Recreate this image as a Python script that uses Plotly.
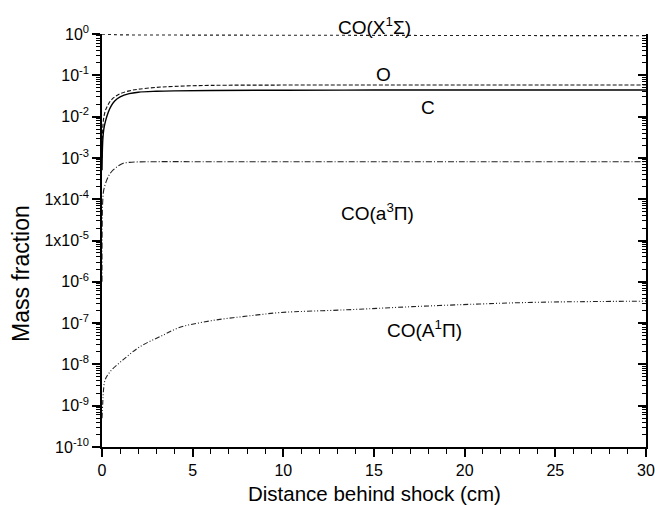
import plotly.graph_objects as go

# ---------------- data ----------------
x_X = [0, 0.5, 1, 2, 5, 10, 20, 30]
y_X = [0.99, 0.965, 0.955, 0.945, 0.935, 0.93, 0.92, 0.91]

x_OC = [0, 0.02, 0.05, 0.1, 0.2, 0.35, 0.5, 0.7, 1, 1.5, 2, 3, 4, 6, 10, 15, 20, 30]
y_O = [1.0e-3, 3e-3, 6e-3, 0.0095, 0.0145, 0.020, 0.025, 0.030, 0.036, 0.042,
       0.046, 0.051, 0.054, 0.057, 0.058, 0.058, 0.058, 0.058]
y_C = [5e-4, 1.5e-3, 3e-3, 5e-3, 8e-3, 0.013, 0.018, 0.024, 0.030, 0.036,
       0.039, 0.041, 0.042, 0.043, 0.0435, 0.044, 0.044, 0.044]

x_a = [0, 0.01, 0.04, 0.1, 0.26, 0.4, 0.62, 0.9, 1.17, 1.5, 2, 3, 5, 10, 20, 30]
y_a = [1e-6, 2e-5, 9e-5, 1.7e-4, 2.9e-4, 3.9e-4, 5.1e-4, 6.4e-4, 7.4e-4, 7.8e-4,
       8.0e-4, 8.1e-4, 8.1e-4, 8.1e-4, 8.1e-4, 8.1e-4]

x_A = [0, 0.04, 0.07, 0.17, 0.44, 1.17, 2.1, 3.2, 4.3, 5.4, 6.5, 7.6, 8.7, 9.8,
       13.5, 17.1, 20.8, 24.1, 30]
y_A = [5e-10, 1.15e-9, 2e-9, 4.2e-9, 6.6e-9, 1.3e-8, 2.7e-8, 4.7e-8, 7.9e-8,
       1.02e-7, 1.23e-7, 1.41e-7, 1.6e-7, 1.8e-7, 2.1e-7, 2.5e-7, 2.9e-7, 3.2e-7, 3.4e-7]

y_tickvals = [1, 1e-1, 1e-2, 1e-3, 1e-4, 1e-5, 1e-6, 1e-7, 1e-8, 1e-9, 1e-10]
y_ticktext = ["10<sup>0</sup>", "10<sup>-1</sup>", "10<sup>-2</sup>", "10<sup>-3</sup>",
              "1x10<sup>-4</sup>", "1x10<sup>-5</sup>", "10<sup>-6</sup>", "10<sup>-7</sup>",
              "10<sup>-8</sup>", "10<sup>-9</sup>", "10<sup>-10</sup>"]
x_tickvals = [0, 5, 10, 15, 20, 25, 30]
x_minorvals = list(range(0, 31))

labels = ["O", "C", "CO(a<sup>3</sup>Π)", "CO(A<sup>1</sup>Π)"]
label_x = [15.5, 18.0, 15.2, 17.8]
label_logy = [-0.99, -1.77, -4.31, -7.14]
top_label = "CO(X<sup>1</sup>Σ)"
top_label_x = 15.05

# ---------------- figure ----------------
FONT = "Arial, 'Liberation Sans', sans-serif"
minor_vals = [k * 10.0 ** n for n in range(-10, 0) for k in range(2, 10)]

L, R, T, B = 102, 9, 34, 58
W, H = 655, 505
plot_h = H - T - B

fig = go.Figure()
lw = 1.1
fig.add_trace(go.Scatter(x=x_X, y=y_X, mode="lines", line=dict(color="#222", width=lw, dash="dot")))
fig.add_trace(go.Scatter(x=x_OC, y=y_O, mode="lines", line=dict(color="#111", width=lw, dash="4px,2px"),
                         line_shape="spline"))
fig.add_trace(go.Scatter(x=x_OC, y=y_C, mode="lines", line=dict(color="#000", width=1.4),
                         line_shape="spline"))
fig.add_trace(go.Scatter(x=x_a, y=y_a, mode="lines", line=dict(color="#222", width=lw, dash="6px,2px,1px,2px"),
                         line_shape="spline"))
fig.add_trace(go.Scatter(x=x_A, y=y_A, mode="lines",
                         line=dict(color="#222", width=lw, dash="5px,2px,1px,2px,1px,2px"),
                         line_shape="spline"))
# transparent carrier for the mirrored right axis
fig.add_trace(go.Scatter(x=[0, 30], y=[1e-10, 1], mode="lines", yaxis="y2",
                         line=dict(width=1, color="rgba(0,0,0,0)"), hoverinfo="skip"))

axis_font = dict(family=FONT, size=16, color="black")

fig.update_layout(
    width=W, height=H, autosize=False,
    margin=dict(l=L, r=R, t=T, b=B, pad=0, autoexpand=False),
    paper_bgcolor="white", plot_bgcolor="white",
    showlegend=False,
    font=dict(family=FONT, color="black"),
    xaxis=dict(
        range=[0, 30], tickmode="array", tickvals=x_tickvals, ticks="outside", ticklen=8, tickwidth=1.5,
        tickcolor="black", showline=True, linecolor="black", linewidth=1.5, automargin=False,
        showgrid=False, zeroline=False, tickfont=axis_font, ticklabeloverflow="allow",
        minor=dict(tickmode="array", tickvals=x_minorvals, ticks="outside", ticklen=5, tickwidth=1.2,
                   tickcolor="black", showgrid=False),
    ),
    yaxis=dict(
        type="log", range=[-10, 0], tickmode="array", tickvals=y_tickvals, ticktext=y_ticktext,
        ticks="outside", ticklen=8, tickwidth=1.5, tickcolor="black", automargin=False,
        showline=True, linecolor="black", linewidth=1.5, showgrid=False, zeroline=False,
        tickfont=axis_font,
        minor=dict(tickmode="array", tickvals=minor_vals, ticks="outside", ticklen=4, tickwidth=1.2,
                   tickcolor="black", showgrid=False),
    ),
    yaxis2=dict(
        type="log", range=[-10, 0], overlaying="y", side="right", anchor="x", automargin=False,
        tickmode="array", tickvals=y_tickvals, showticklabels=False, ticks="inside", ticklen=8,
        tickwidth=1.5, tickcolor="black", showline=True, linecolor="black", linewidth=1.5,
        showgrid=False, zeroline=False,
        minor=dict(tickmode="array", tickvals=minor_vals, ticks="inside", ticklen=4, tickwidth=1.2,
                   tickcolor="black", showgrid=False),
    ),
)

annotations = []
for t, xv, yv in zip(labels, label_x, label_logy):
    annotations.append(dict(text=t, x=xv, y=yv, xref="x", yref="y", showarrow=False,
                            xanchor="center", yanchor="middle",
                            font=dict(family=FONT, size=19, color="black")))
annotations.append(dict(text=top_label, x=top_label_x, y=(H - B - 26) / plot_h,
                        xref="x", yref="paper", showarrow=False, xanchor="center", yanchor="middle",
                        font=dict(family=FONT, size=19, color="black")))
annotations.append(dict(text="Distance behind shock (cm)", x=0.5, y=(H - B - 493) / plot_h,
                        xref="paper", yref="paper", showarrow=False, xanchor="center",
                        yanchor="middle", font=dict(family=FONT, size=20.5, color="black")))
annotations.append(dict(text="Mass fraction", x=(21 - L) / (W - L - R), y=(H - B - 274) / plot_h,
                        xref="paper", yref="paper", showarrow=False, textangle=-90,
                        xanchor="center", yanchor="middle",
                        font=dict(family=FONT, size=23, color="black")))
fig.update_layout(annotations=annotations)

fig.write_html("out.html")
